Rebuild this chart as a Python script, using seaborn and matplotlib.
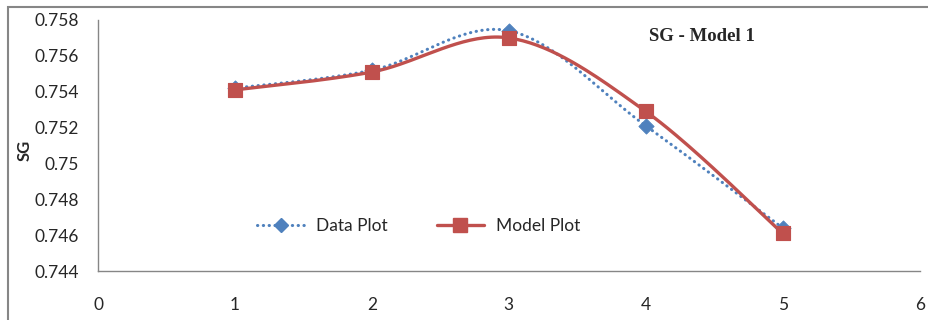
import numpy as np
import matplotlib
matplotlib.use('Agg')
import matplotlib.pyplot as plt
from matplotlib.lines import Line2D
from matplotlib.patches import Rectangle
import seaborn as sns

# ------------------ DATA ------------------
x_vals = [1, 2, 3, 4, 5]
data_sg = [0.7542, 0.7552, 0.7574, 0.7521, 0.7464]
model_sg = [0.7541, 0.7551, 0.7570, 0.7529, 0.7461]


def smooth(xs, ys, n=40):
    # Catmull-Rom style curve, close to Excel's "smoothed line"
    xs = np.asarray(xs, float)
    ys = np.asarray(ys, float)
    px = np.concatenate([[xs[0]], xs, [xs[-1]]])
    py = np.concatenate([[ys[0]], ys, [ys[-1]]])
    out_x, out_y = [], []
    for i in range(1, len(px) - 2):
        p0, p1, p2, p3 = [np.array([px[j], py[j]]) for j in (i - 1, i, i + 1, i + 2)]
        c1 = p1 + (p2 - p0) / 6
        c2 = p2 - (p3 - p1) / 6
        t = np.linspace(0, 1, n)[:, None]
        pts = ((1 - t) ** 3) * p1 + 3 * ((1 - t) ** 2) * t * c1 + 3 * (1 - t) * t ** 2 * c2 + t ** 3 * p2
        out_x.extend(pts[:, 0])
        out_y.extend(pts[:, 1])
    return np.array(out_x), np.array(out_y)


sns.set_style("white")
plt.rcParams['font.family'] = ['Lato', 'DejaVu Sans']

blue = '#4F81BD'
red = '#C0504D'

fig = plt.figure(figsize=(9.29, 3.2), dpi=100)
ax = fig.add_axes([0.1055, 0.153, 0.8845, 0.7845])

# outer chart frame
fig.patches.append(Rectangle((8 / 929, -0.1), 1.0, 1 - 7 / 320 + 0.1, transform=fig.transFigure,
                             fill=False, edgecolor='#868686', linewidth=1.5))

sx, sy = smooth(x_vals, data_sg)
sns.lineplot(x=sx, y=sy, ax=ax, color=blue, linewidth=2.2, linestyle=(0, (0.1, 1.8)),
             dash_capstyle='round', sort=False, estimator=None)
sns.scatterplot(x=x_vals, y=data_sg, ax=ax, color=blue, marker='D', s=60, edgecolor=blue, zorder=3)

mx, my = smooth(x_vals, model_sg)
sns.lineplot(x=mx, y=my, ax=ax, color=red, linewidth=2.4, sort=False, estimator=None)
sns.scatterplot(x=x_vals, y=model_sg, ax=ax, color=red, marker='s', s=105, edgecolor=red, zorder=4)

ax.set_xlim(0, 6)
ax.set_ylim(0.744, 0.758)
ax.set_yticks(np.arange(0.744, 0.7581, 0.002))
ax.set_yticklabels([f"{v:g}" for v in np.round(np.arange(0.744, 0.7581, 0.002), 3)])
ax.set_xticks(range(0, 7))

for side in ['top', 'right']:
    ax.spines[side].set_visible(False)
for side in ['left', 'bottom']:
    ax.spines[side].set_color('#868686')
    ax.spines[side].set_linewidth(1)
ax.tick_params(axis='y', direction='out', length=6, width=1, color='#868686', labelsize=12.5, pad=8)
ax.tick_params(axis='x', direction='out', length=5, width=1, color='#868686', labelsize=12.5, pad=14)
ax.set_xlabel('')
ax.set_ylabel('')

fig.text(25 / 929, 1 - 150 / 320, 'SG', rotation=90, ha='center', va='center',
         fontsize=12, fontweight='bold')

ax.text(0.735, 0.936, 'SG - Model 1', transform=ax.transAxes, ha='center', va='center',
        fontsize=13.5, fontweight='bold', family='Liberation Serif')

handles = [
    Line2D([], [], color=blue, linewidth=2.2, linestyle=(0, (0.1, 1.8)), dash_capstyle='round',
           marker='D', markersize=7, markerfacecolor=blue, markeredgecolor=blue),
    Line2D([], [], color=red, linewidth=2.4, marker='s', markersize=10,
           markerfacecolor=red, markeredgecolor=red),
]
ax.legend(handles, ['Data Plot', 'Model Plot'], loc='center left', bbox_to_anchor=(0.175, 0.18),
          ncol=2, frameon=False, fontsize=12.5, handlelength=2.7, columnspacing=2.8, handletextpad=0.7)

fig.savefig('out.png', dpi=100)
